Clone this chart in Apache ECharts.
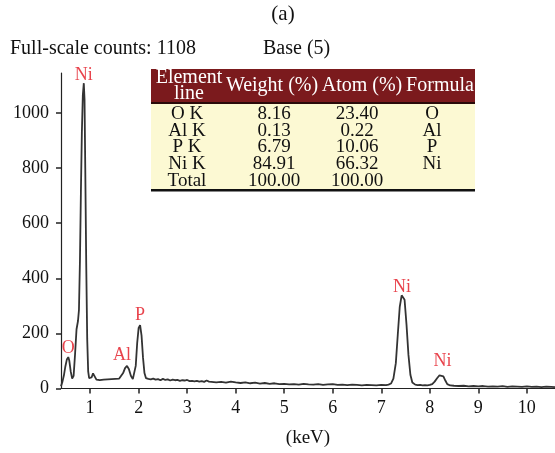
<!DOCTYPE html>
<html>
<head>
<meta charset="utf-8">
<script src="https://cdn.jsdelivr.net/npm/echarts@6/dist/echarts.min.js"></script>
<style>html,body{margin:0;padding:0;background:#fff}#c{width:555px;height:453px}</style>
</head>
<body>
<div id="c"></div>
<script>
// ---- data ----
const energyKeV = [0.40,0.43,0.46,0.49,0.52,0.55,0.57,0.60,0.63,0.66,0.69,0.72,0.75,0.77,0.79,0.81,0.83,0.85,0.87,0.885,0.90,0.92,0.94,0.96,0.98,1.00,1.03,1.06,1.08,1.10,1.13,1.16,1.20,1.24,1.28,1.32,1.36,1.40,1.44,1.48,1.52,1.56,1.60,1.64,1.68,1.72,1.76,1.80,1.84,1.88,1.91,1.94,1.97,2.00,2.03,2.06,2.09,2.12,2.15,2.20,2.25,2.30,2.35,2.40,2.45,2.50,2.55,2.60,2.65,2.70,2.75,2.80,2.85,2.90,2.95,3.00,3.05,3.10,3.15,3.20,3.25,3.30,3.35,3.40,3.45,3.50,3.60,3.70,3.80,3.90,4.00,4.10,4.20,4.30,4.40,4.50,4.60,4.70,4.80,4.90,5.00,5.10,5.20,5.30,5.40,5.50,5.60,5.70,5.80,5.90,6.00,6.10,6.20,6.30,6.40,6.50,6.60,6.70,6.80,6.90,7.00,7.10,7.15,7.20,7.25,7.30,7.34,7.38,7.42,7.45,7.48,7.52,7.56,7.60,7.64,7.70,7.75,7.80,7.85,7.90,7.95,8.00,8.05,8.10,8.15,8.20,8.24,8.28,8.32,8.36,8.42,8.50,8.60,8.70,8.80,8.90,9.00,9.10,9.20,9.30,9.40,9.50,9.60,9.70,9.80,9.90,10.00,10.10,10.20,10.30,10.40,10.50,10.58];
const counts = [8,25,48,80,105,114,102,62,36,46,125,215,245,285,460,710,930,1065,1108,1050,800,450,180,62,38,36,40,55,60,48,32,28,30,27,32,29,33,30,34,31,35,33,36,42,56,74,82,70,46,34,40,82,165,220,230,192,112,56,38,35,33,36,32,34,30,35,31,33,29,32,30,31,28,30,29,31,27,28,26,28,25,27,24,29,25,24,22,24,21,25,22,20,22,19,21,18,20,17,19,16,17,15,16,14,17,15,14,16,13,15,16,13,14,12,14,13,11,13,12,11,13,12,14,18,36,92,195,295,338,343,322,232,122,50,22,14,12,13,11,12,11,13,16,25,37,48,53,44,29,16,11,10,9,10,8,9,8,9,7,8,7,9,6,8,7,6,8,6,7,5,7,6,5];

const peakNames = ['O','Ni','Al','P','Ni','Ni'];
const peakKeV   = [0.55,0.87,1.76,2.03,7.45,8.24];
const peakCounts= [114,1108,82,230,343,53];

const xTicks = [1,2,3,4,5,6,7,8,9,10];
const yTicks = [0,200,400,600,800,1000];

const tableHeader = [['Element','line'],['Weight (%)'],['Atom (%)'],['Formula']];
const tableElement = ['O K','Al K','P K','Ni K','Total'];
const tableWeight  = ['8.16','0.13','6.79','84.91','100.00'];
const tableAtom    = ['23.40','0.22','10.06','66.32','100.00'];
const tableFormula = ['O','Al','P','Ni',''];

const fullScale = 'Full-scale counts: 1108';
const baseText = 'Base (5)';
const titleText = '(a)';

// ---- layout / style ----
const FONT = '"Liberation Serif", "DejaVu Serif", serif';
const RED = '#e2141f';
const labelOffsets = [[0,2],[0,3],[-5,0],[0,1],[-1,4],[1,-2]];

const chart = echarts.init(document.getElementById('c'));

const lineData = energyKeV.map((x,i)=>[x, counts[i]]);
const peakData = peakKeV.map((x,i)=>({
  value:[x, peakCounts[i]],
  label:{formatter: peakNames[i], offset: labelOffsets[i]}
}));

const graphics = [];
graphics.push({type:'text', x: 283, y: 14, style:{text:titleText, font:'21px '+FONT, fill:'#111', align:'center', verticalAlign:'middle'}});
graphics.push({type:'text', x: 10, y: 49, style:{text:fullScale, font:'20px '+FONT, fill:'#111', verticalAlign:'middle'}});
graphics.push({type:'text', x: 263, y: 49, style:{text:baseText, font:'20px '+FONT, fill:'#111', verticalAlign:'middle'}});

// table
const tx0 = 151, tx1 = 475, ty0 = 69, tyH = 102, ty1 = 189;
graphics.push({type:'rect', shape:{x:tx0,y:ty0,width:tx1-tx0,height:tyH-ty0}, style:{fill:'#7b1a1d'}, z:10});
graphics.push({type:'rect', shape:{x:tx0,y:tyH,width:tx1-tx0,height:ty1-tyH}, style:{fill:'#fcf9d3'}, z:10});
graphics.push({type:'rect', shape:{x:tx0,y:tyH,width:tx1-tx0,height:2}, style:{fill:'#2a0a0a'}, z:11});
graphics.push({type:'rect', shape:{x:tx0,y:ty1,width:tx1-tx0,height:2.5}, style:{fill:'#111'}, z:11});
const headCenters = [189, 272, 362, 440];
tableHeader.forEach((h,i)=>{
  if (h.length === 2) {
    graphics.push({type:'text', x:headCenters[i], y:78, z:12, style:{text:h[0], font:'20px '+FONT, fill:'#fff', align:'center', verticalAlign:'middle'}});
    graphics.push({type:'text', x:headCenters[i], y:94, z:12, style:{text:h[1], font:'20px '+FONT, fill:'#fff', align:'center', verticalAlign:'middle'}});
  } else {
    graphics.push({type:'text', x:headCenters[i], y:86, z:12, style:{text:h[0], font:'20px '+FONT, fill:'#fff', align:'center', verticalAlign:'middle'}});
  }
});
const bodyCenters = [187, 274, 357, 432];
const cols = [tableElement, tableWeight, tableAtom, tableFormula];
cols.forEach((col,ci)=>{
  col.forEach((t,ri)=>{
    if (!t) return;
    graphics.push({type:'text', x:bodyCenters[ci], y:114 + ri*16.7, z:12,
      style:{text:t, font:'19px '+FONT, fill:'#111', align:'center', verticalAlign:'middle'}});
  });
});

chart.setOption({
  animation:false,
  backgroundColor:'#fff',
  grid:{left:61, right:0, top:73, bottom:64.5},
  xAxis:{
    type:'value', min:0.4, max:10.58,
    name:'(keV)', nameLocation:'middle', nameGap:40,
    nameTextStyle:{fontFamily:FONT, fontSize:19, color:'#111'},
    axisLine:{lineStyle:{color:'#222', width:1.2}},
    axisTick:{show:true, customValues:xTicks, length:5, lineStyle:{color:'#222', width:1.5}},
    axisLabel:{customValues:xTicks, margin:11, fontFamily:FONT, fontSize:18, color:'#111', formatter:v=>String(v)},
    splitLine:{show:false}
  },
  yAxis:{
    type:'value', min:0, max:1145,
    axisLine:{show:true, lineStyle:{color:'#222', width:1.2}},
    axisTick:{show:true, customValues:yTicks, length:5, lineStyle:{color:'#222', width:1.5}},
    axisLabel:{customValues:yTicks, margin:12, fontFamily:FONT, fontSize:18, color:'#111', formatter:v=>String(v)},
    splitLine:{show:false}
  },
  series:[
    {type:'line', data:lineData, showSymbol:false, symbol:'none',
     lineStyle:{color:'#333', width:1.8}, z:3},
    {type:'scatter', data:peakData, symbolSize:0, z:4,
     label:{show:true, position:'top', distance:2, color:RED, fontFamily:FONT, fontSize:18}}
  ],
  graphic: graphics
});
</script>
</body>
</html>
